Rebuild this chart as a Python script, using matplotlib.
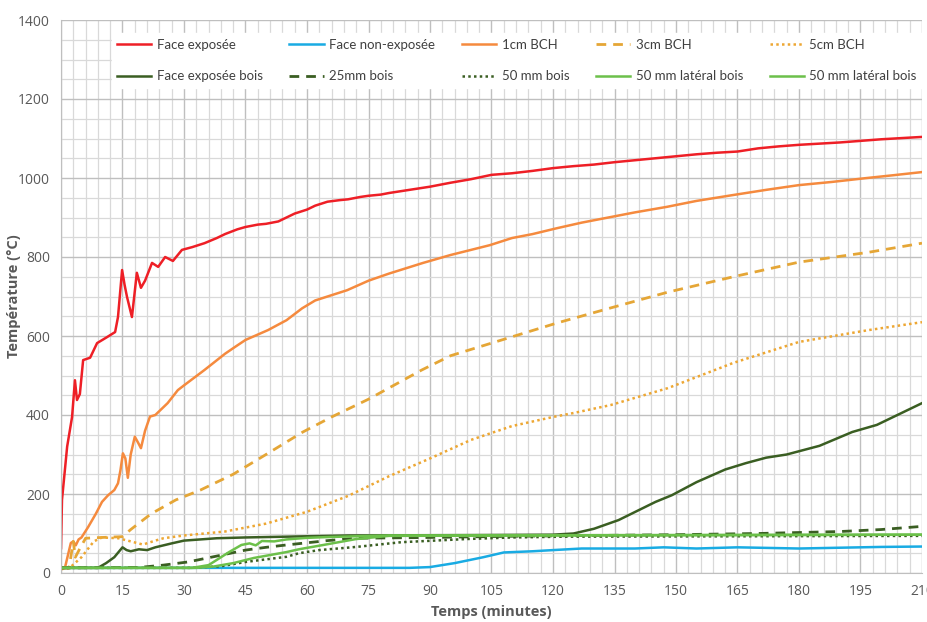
import matplotlib.pyplot as plt
import numpy as np

plt.rcParams['font.family'] = ['Open Sans', 'DejaVu Sans']

# Face exposée
t_fe = [0, 0.24, 1.5, 2.7, 3.4, 3.9, 4.6, 5.4, 7.1, 8.8, 11.2, 13.2, 13.9, 14.9, 15.5, 16.1,
        17.3, 18.5, 19.5, 20.5, 22.2, 23.7, 25.4, 27.3, 29.5, 32, 35, 38, 40, 43, 45, 48, 50,
        53, 55, 57, 60, 62, 65, 68, 70, 73, 75, 78, 80, 85, 90, 95, 100, 105, 110, 115, 120,
        125, 130, 135, 140, 145, 150, 155, 160, 165, 170, 175, 180, 185, 190, 195, 200, 205, 210]
v_fe = [63, 185, 320, 395, 488, 438, 453, 539, 545, 582, 597, 610, 648, 767, 730, 699,
        648, 760, 722, 740, 785, 775, 800, 790, 818, 825, 835, 848, 858, 870, 876, 882, 884,
        890, 900, 910, 920, 930, 940, 944, 946, 952, 955, 958, 962, 970, 978, 988, 997, 1008, 1012, 1018, 1025,
        1030, 1034, 1040, 1045, 1050, 1055, 1060, 1064, 1067, 1075, 1080, 1084, 1087, 1090, 1094, 1098, 1101, 1104]

# Face non-exposée
t_fne = [0, 30, 60, 85, 90, 96, 103, 108, 115, 120, 127, 140, 147, 155, 165, 180, 190, 200, 210]
v_fne = [13, 13, 13, 13, 15, 25, 40, 52, 55, 58, 62, 62, 65, 62, 65, 62, 64, 66, 67]

# 1cm BCH
t_1 = [0, 1, 1.8, 2.4, 3, 3.6, 4.3, 5, 6.6, 8.5, 10, 11.5, 13, 13.9, 14.5, 15.1, 15.7, 16.3, 17,
       18, 18.8, 19.5, 20.5, 21.7, 23, 24.5, 26, 28.5, 30, 35, 40, 42.4, 45, 50.5, 55, 58.8, 62,
       65, 69.8, 75, 80, 88.3, 95, 100, 104.6, 110, 115, 121, 127, 133, 140, 147.8, 155, 164,
       172, 180, 188, 196.6, 203, 210]
v_1 = [13, 15, 50, 76, 80, 70, 85, 90, 116, 150, 180, 197, 210, 227, 260, 303, 290, 241, 300,
       345, 330, 316, 360, 396, 400, 415, 430, 463, 475, 514, 555, 572, 590, 615, 640, 670, 690,
       700, 716, 740, 758, 785, 805, 818, 830, 848, 858, 873, 887, 899, 913, 927, 942, 957,
       970, 982, 990, 1000, 1007, 1015]

# 3cm BCH
t_3 = [0, 2, 3, 3.5, 4.5, 6, 10, 15, 17, 22, 28, 34, 42, 50, 59, 66, 75, 88, 95, 105, 121,
       133, 148, 164, 180, 197, 210]
v_3 = [10, 15, 80, 40, 60, 88, 90, 92, 110, 150, 185, 210, 250, 300, 357, 395, 440, 514, 550,
       582, 633, 668, 711, 750, 787, 812, 835]

# 5cm BCH
t_5 = [0, 2, 5, 8, 10, 14, 17, 20, 23, 25, 30, 40, 50, 60, 70, 80, 90, 100, 110, 120, 125,
       134, 148, 164, 180, 197, 210]
v_5 = [10, 12, 40, 80, 90, 88, 80, 72, 82, 88, 95, 105, 125, 155, 195, 245, 290, 337, 372,
       395, 405, 425, 468, 532, 585, 615, 635]

# Face exposée bois
t_fb = [0, 9, 11, 13, 15, 16, 17, 19, 21, 23, 27, 30, 38, 45, 55, 70, 100, 120, 125, 130,
        136, 145, 149, 155, 162, 167, 172, 177, 185, 193, 199, 205, 210]
v_fb = [13, 13, 25, 40, 65, 58, 55, 60, 58, 65, 75, 82, 88, 90, 92, 95, 96, 97, 100, 112,
        134, 180, 197, 230, 262, 278, 292, 300, 322, 357, 375, 405, 430]

# 25mm bois
t_25 = [0, 19, 25, 31, 39, 45, 50, 55, 65, 72, 90, 110, 130, 150, 170, 190, 200, 210]
v_25 = [13, 14, 20, 28, 45, 58, 65, 71, 82, 88, 90, 93, 95, 97, 100, 105, 110, 118]

# 50 mm bois
t_50 = [0, 32, 35, 39, 45, 55, 58, 63, 72, 83, 99, 110, 123, 210]
v_50 = [13, 13, 15, 17, 28, 41, 50, 58, 66, 78, 86, 90, 92, 94]

# 50 mm latéral bois (1)
t_la = [0, 32, 36, 41, 44, 46, 47.5, 49, 52, 55, 60, 65, 72, 80, 210]
v_la = [13, 13, 20, 53, 71, 75, 70, 81, 80, 85, 89, 91, 93, 95, 97]

# 50 mm latéral bois (2)
t_lb = [0, 33, 37, 42, 47, 55, 58, 64, 72, 80, 210]
v_lb = [13, 13, 16, 25, 38, 53, 60, 71, 86, 94, 97]

fig = plt.figure(figsize=(9.28, 6.22), dpi=100)
ax = fig.add_axes([61 / 928, 1 - 573 / 622, 861 / 928, 553 / 622])

dash = (0, (3.5, 2.5))
dot = (0, (1, 1.3))
l1, = ax.plot(t_fe, v_fe, color='#EE1F26', lw=1.8, label='Face exposée')
l2, = ax.plot(t_fne, v_fne, color='#19ABE3', lw=1.8, label='Face non-exposée')
l3, = ax.plot(t_1, v_1, color='#F58A3E', lw=1.8, label='1cm BCH')
l4, = ax.plot(t_3, v_3, color='#E5A636', lw=2, ls=dash, label='3cm BCH')
l5, = ax.plot(t_5, v_5, color='#EDA733', lw=1.8, ls=dot, label='5cm BCH')
l6, = ax.plot(t_fb, v_fb, color='#3A5E22', lw=1.8, label='Face exposée bois')
l7, = ax.plot(t_25, v_25, color='#3A5E22', lw=2, ls=dash, label='25mm bois')
l8, = ax.plot(t_50, v_50, color='#3A5E22', lw=1.8, ls=dot, label='50 mm bois')
l9, = ax.plot(t_la, v_la, color='#6CC04A', lw=1.8, label='50 mm latéral bois')
l10, = ax.plot(t_lb, v_lb, color='#6CC04A', lw=1.8, label='50 mm latéral bois')

ax.set_xlim(0, 210)
ax.set_ylim(0, 1400)
ax.set_xticks(np.arange(0, 211, 15))
ax.set_xticks(np.arange(0, 211, 3), minor=True)
ax.set_yticks(np.arange(0, 1401, 200))
ax.set_yticks(np.arange(0, 1401, 50), minor=True)
ax.grid(which='major', color='#BFBFBF', lw=1.0)
ax.grid(which='minor', color='#D9D9D9', lw=0.9)
ax.set_axisbelow(True)
ax.tick_params(which='both', length=0, labelsize=10, labelcolor='#595959', pad=8)
for s in ['top', 'right']:
    ax.spines[s].set_visible(False)
for s in ['left', 'bottom']:
    ax.spines[s].set_color('#BFBFBF')

ax.set_xlabel('Temps (minutes)', fontsize=10.5, fontweight='bold', color='#595959', labelpad=4)
ax.set_ylabel('Température (°C)', fontsize=10.5, fontweight='bold', color='#595959')
ax.yaxis.set_label_coords(-0.046, 0.5)

handles = [l1, l6, l2, l7, l3, l8, l4, l9, l5, l10]
leg = ax.legend(handles, [h.get_label() for h in handles], ncol=5, mode='expand',
                loc='upper left', bbox_to_anchor=(0.059, 0.861, 0.941, 0.115),
                handlelength=2.6, labelspacing=1.5, handletextpad=0.4,
                frameon=True, fancybox=False, edgecolor='white', framealpha=1,
                borderaxespad=0, prop={'family': 'Lato', 'size': 9.5})
for txt in leg.get_texts():
    txt.set_color('#404040')

fig.savefig('out.png', dpi=100)
